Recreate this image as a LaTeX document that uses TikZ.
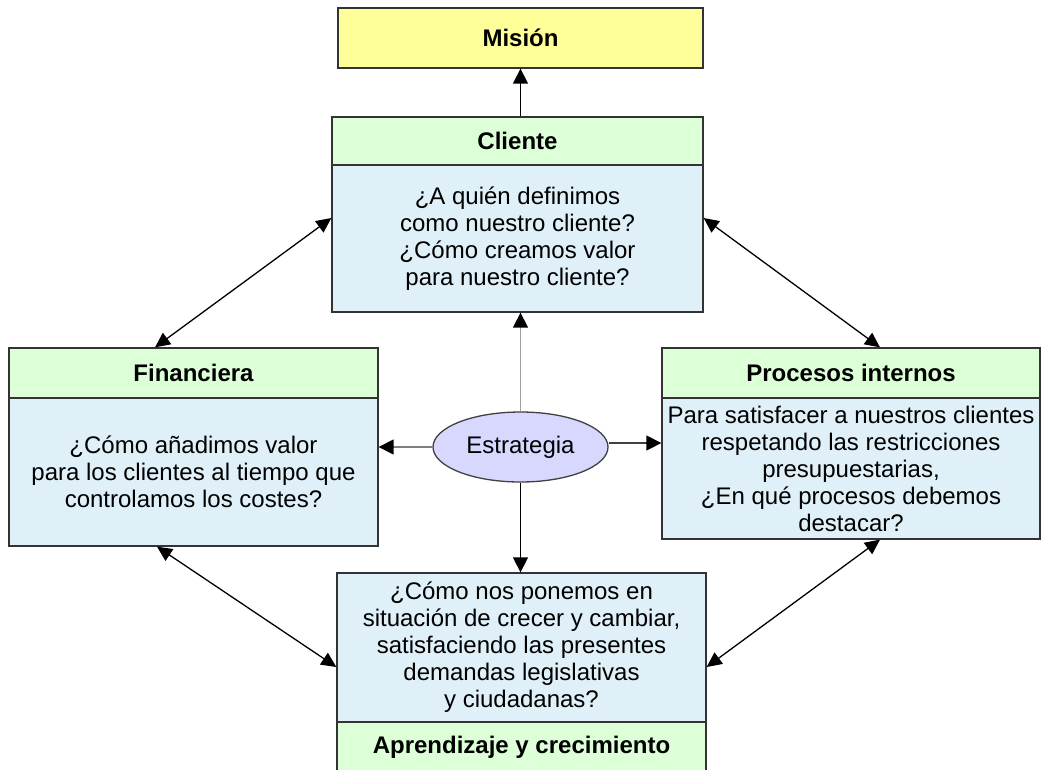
\documentclass[tikz,border=0pt]{standalone}
\usepackage{fontspec}
\setmainfont{Liberation Sans}
\usetikzlibrary{arrows.meta,shapes.geometric}
\definecolor{misyel}{RGB}{255,255,153}
\definecolor{hdrgreen}{RGB}{221,255,216}
\definecolor{bodyblue}{RGB}{223,240,248}
\definecolor{ellfill}{RGB}{216,216,255}
\definecolor{linegray}{RGB}{160,160,160}
\tikzset{
  txt/.style={font=\fontsize{24}{27}\selectfont, align=center},
  hdr/.style={draw=black!80, line width=1.3pt, fill=hdrgreen, inner sep=0pt, font=\fontsize{24}{27}\selectfont\bfseries},
  bodybox/.style={draw=black!80, line width=1.3pt, fill=bodyblue, inner sep=0pt, txt},
  conn/.style={line width=1.4pt, -{Triangle[length=15pt,width=15pt,color=black]}},
  dconn/.style={line width=1.3pt, {Triangle[length=15pt,width=14pt]}-{Triangle[length=15pt,width=14pt]}}
}
\begin{document}
\begin{tikzpicture}[x=1pt,y=-1pt]
\useasboundingbox (0,0) rectangle (1041,769);
\clip (0,0) rectangle (1041,769);
% Mision
\node[draw=black!80, line width=1.3pt, fill=misyel, inner sep=0pt, minimum width=365pt, minimum height=60pt, font=\fontsize{24}{27}\selectfont\bfseries] (mision) at (520.5,38) {Misión};
% Cliente
\node[hdr, minimum width=371pt, minimum height=48pt] (clienteH) at (517.5,141) {Cliente};
\node[bodybox, minimum width=371pt, minimum height=147pt] (clienteB) at (517.5,238.5) {¿A quién definimos\\como nuestro cliente?\\¿Cómo creamos valor\\para nuestro cliente?};
% Financiera
\node[hdr, minimum width=369pt, minimum height=50pt] (finH) at (193.5,373) {Financiera};
\node[bodybox, minimum width=369pt, minimum height=148pt] (finB) at (193.5,472) {¿Cómo añadimos valor\\para los clientes al tiempo que\\controlamos los costes?};
% Procesos internos
\node[hdr, minimum width=378pt, minimum height=50pt] (procH) at (851,373) {Procesos internos};
\node[bodybox, minimum width=378pt, minimum height=141pt] (procB) at (851,468.5) {Para satisfacer a nuestros clientes\\respetando las restricciones\\presupuestarias,\\¿En qué procesos debemos\\destacar?};
% Aprendizaje
\node[bodybox, minimum width=369pt, minimum height=149pt] (aprB) at (521.5,647.5) {¿Cómo nos ponemos en\\situación de crecer y cambiar,\\satisfaciendo las presentes\\demandas legislativas\\y ciudadanas?};
\node[hdr, minimum width=369pt, minimum height=50pt] (aprH) at (521.5,747) {Aprendizaje y crecimiento};
% Estrategia
\node[ellipse, draw=black!75, line width=1.3pt, fill=ellfill, minimum width=175pt, minimum height=70pt, inner sep=0pt, txt] (est) at (520.5,447) {Estrategia};
% connectors
\draw[conn] (mision.south |- clienteH.north) -- (mision.south);
\draw[conn, draw=linegray] (est.north) -- (est.north |- clienteB.south);
\draw[conn, draw=black!50] (est.west) -- (est.west -| finB.east);
\draw[conn, draw=black!75] ([yshift=4pt]est.east) -- ([yshift=4pt]est.east -| procB.west);
\draw[conn] (est.south) -- (est.south |- aprB.north);
\draw[dconn] ([yshift=20.5pt]clienteB.west) -- ([xshift=-38.5pt]finH.north);
\draw[dconn] ([yshift=20.5pt]clienteB.east) -- ([xshift=29pt]procH.north);
\draw[dconn] ([xshift=-36.5pt]finB.south) -- ([yshift=-19.5pt]aprB.west);
\draw[dconn] ([xshift=29pt]procB.south) -- ([yshift=-19.5pt]aprB.east);
\end{tikzpicture}
\end{document}
